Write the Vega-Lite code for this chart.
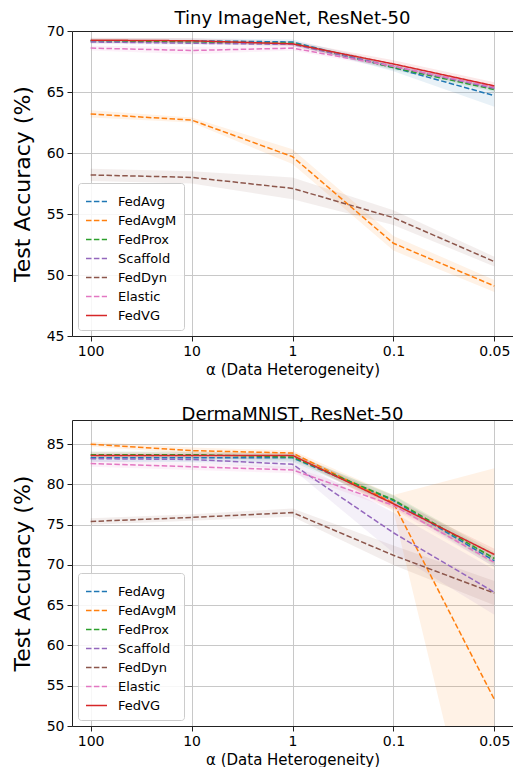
{
  "$schema": "https://vega.github.io/schema/vega-lite/v6.json",
  "padding": {"left": 11, "top": 10, "right": 0, "bottom": 0},
  "spacing": 29,
  "resolve": {"legend": {"color": "independent", "strokeDash": "independent", "strokeWidth": "independent"}},
  "config": {
    "font": "DejaVu Sans",
    "view": {"stroke": null},
    "title": {"font": "DejaVu Sans", "fontSize": 18, "fontWeight": "normal", "color": "#000", "offset": -4, "baseline": "alphabetic"},
    "axis": {"labelFont": "DejaVu Sans", "labelFontSize": 14, "labelColor": "#000", "titleFont": "DejaVu Sans", "titleFontWeight": "normal", "titleColor": "#000", "domainColor": "#222", "tickColor": "#222", "tickSize": 5, "gridColor": "#c8c8c8", "gridWidth": 1, "labelPadding": 3},
    "legend": {"orient": "bottom-left", "offset": 6, "padding": 7, "fillColor": "rgba(255,255,255,0.85)", "strokeColor": "#cccccc", "cornerRadius": 3, "symbolType": "stroke", "symbolSize": 441, "labelFontSize": 13, "labelFont": "DejaVu Sans", "labelColor": "#000", "rowPadding": 0, "labelOffset": 10}
  },
  "datasets": {
    "d": [
      {"p": "t", "m": "FedAvg", "a": "100", "v": 69.2, "lo": 69.0, "hi": 69.4},
      {"p": "t", "m": "FedAvg", "a": "10", "v": 69.2, "lo": 69.0, "hi": 69.4},
      {"p": "t", "m": "FedAvg", "a": "1", "v": 69.1, "lo": 68.9, "hi": 69.3},
      {"p": "t", "m": "FedAvg", "a": "0.1", "v": 67.0, "lo": 66.7, "hi": 67.3},
      {"p": "t", "m": "FedAvg", "a": "0.05", "v": 64.7, "lo": 63.8, "hi": 65.4},
      {"p": "t", "m": "FedAvgM", "a": "100", "v": 63.2, "lo": 62.9, "hi": 63.5},
      {"p": "t", "m": "FedAvgM", "a": "10", "v": 62.7, "lo": 62.5, "hi": 62.9},
      {"p": "t", "m": "FedAvgM", "a": "1", "v": 59.7, "lo": 59.1, "hi": 60.3},
      {"p": "t", "m": "FedAvgM", "a": "0.1", "v": 52.6, "lo": 52.0, "hi": 53.2},
      {"p": "t", "m": "FedAvgM", "a": "0.05", "v": 49.1, "lo": 48.6, "hi": 49.6},
      {"p": "t", "m": "FedProx", "a": "100", "v": 69.2, "lo": 69.05, "hi": 69.35},
      {"p": "t", "m": "FedProx", "a": "10", "v": 69.1, "lo": 68.95, "hi": 69.25},
      {"p": "t", "m": "FedProx", "a": "1", "v": 69.0, "lo": 68.85, "hi": 69.15},
      {"p": "t", "m": "FedProx", "a": "0.1", "v": 67.0, "lo": 66.8, "hi": 67.2},
      {"p": "t", "m": "FedProx", "a": "0.05", "v": 65.2, "lo": 65.0, "hi": 65.4},
      {"p": "t", "m": "Scaffold", "a": "100", "v": 69.1, "lo": 68.95, "hi": 69.25},
      {"p": "t", "m": "Scaffold", "a": "10", "v": 69.0, "lo": 68.85, "hi": 69.15},
      {"p": "t", "m": "Scaffold", "a": "1", "v": 68.9, "lo": 68.75, "hi": 69.05},
      {"p": "t", "m": "Scaffold", "a": "0.1", "v": 67.1, "lo": 66.9, "hi": 67.3},
      {"p": "t", "m": "Scaffold", "a": "0.05", "v": 65.3, "lo": 65.1, "hi": 65.5},
      {"p": "t", "m": "FedDyn", "a": "100", "v": 58.2, "lo": 57.7, "hi": 58.7},
      {"p": "t", "m": "FedDyn", "a": "10", "v": 58.0, "lo": 57.5, "hi": 58.5},
      {"p": "t", "m": "FedDyn", "a": "1", "v": 57.1, "lo": 56.2, "hi": 58.0},
      {"p": "t", "m": "FedDyn", "a": "0.1", "v": 54.7, "lo": 54.1, "hi": 55.3},
      {"p": "t", "m": "FedDyn", "a": "0.05", "v": 51.1, "lo": 50.7, "hi": 51.5},
      {"p": "t", "m": "Elastic", "a": "100", "v": 68.6, "lo": 68.4, "hi": 68.8},
      {"p": "t", "m": "Elastic", "a": "10", "v": 68.4, "lo": 68.1, "hi": 68.7},
      {"p": "t", "m": "Elastic", "a": "1", "v": 68.6, "lo": 68.4, "hi": 68.8},
      {"p": "t", "m": "Elastic", "a": "0.1", "v": 67.1, "lo": 66.9, "hi": 67.3},
      {"p": "t", "m": "Elastic", "a": "0.05", "v": 65.4, "lo": 65.2, "hi": 65.6},
      {"p": "t", "m": "FedVG", "a": "100", "v": 69.25, "lo": 69.05, "hi": 69.45},
      {"p": "t", "m": "FedVG", "a": "10", "v": 69.2, "lo": 69.0, "hi": 69.4},
      {"p": "t", "m": "FedVG", "a": "1", "v": 68.95, "lo": 68.75, "hi": 69.15},
      {"p": "t", "m": "FedVG", "a": "0.1", "v": 67.3, "lo": 67.0, "hi": 67.6},
      {"p": "t", "m": "FedVG", "a": "0.05", "v": 65.5, "lo": 65.2, "hi": 65.8},
      {"p": "d", "m": "FedAvg", "a": "100", "v": 83.3, "lo": 82.8, "hi": 83.8},
      {"p": "d", "m": "FedAvg", "a": "10", "v": 83.3, "lo": 82.8, "hi": 83.8},
      {"p": "d", "m": "FedAvg", "a": "1", "v": 83.3, "lo": 82.8, "hi": 83.8},
      {"p": "d", "m": "FedAvg", "a": "0.1", "v": 78.0, "lo": 77.4, "hi": 78.6},
      {"p": "d", "m": "FedAvg", "a": "0.05", "v": 70.5, "lo": 69.7, "hi": 71.3},
      {"p": "d", "m": "FedAvgM", "a": "100", "v": 85.0, "lo": 84.7, "hi": 85.3},
      {"p": "d", "m": "FedAvgM", "a": "10", "v": 84.2, "lo": 83.8, "hi": 84.6},
      {"p": "d", "m": "FedAvgM", "a": "1", "v": 83.9, "lo": 83.6, "hi": 84.2},
      {"p": "d", "m": "FedAvgM", "a": "0.1", "v": 77.7, "lo": 76.7, "hi": 78.7},
      {"p": "d", "m": "FedAvgM", "a": "0.05", "v": 53.3, "lo": 24.6, "hi": 82.0},
      {"p": "d", "m": "FedProx", "a": "100", "v": 83.7, "lo": 83.3, "hi": 84.1},
      {"p": "d", "m": "FedProx", "a": "10", "v": 83.7, "lo": 83.3, "hi": 84.1},
      {"p": "d", "m": "FedProx", "a": "1", "v": 83.4, "lo": 83.0, "hi": 83.8},
      {"p": "d", "m": "FedProx", "a": "0.1", "v": 78.1, "lo": 77.5, "hi": 78.7},
      {"p": "d", "m": "FedProx", "a": "0.05", "v": 70.8, "lo": 70.0, "hi": 71.6},
      {"p": "d", "m": "Scaffold", "a": "100", "v": 83.2, "lo": 82.8, "hi": 83.6},
      {"p": "d", "m": "Scaffold", "a": "10", "v": 83.1, "lo": 82.7, "hi": 83.5},
      {"p": "d", "m": "Scaffold", "a": "1", "v": 82.5, "lo": 81.9, "hi": 83.1},
      {"p": "d", "m": "Scaffold", "a": "0.1", "v": 74.0, "lo": 71.5, "hi": 76.5},
      {"p": "d", "m": "Scaffold", "a": "0.05", "v": 66.6, "lo": 63.8, "hi": 69.4},
      {"p": "d", "m": "FedDyn", "a": "100", "v": 75.4, "lo": 75.0, "hi": 75.8},
      {"p": "d", "m": "FedDyn", "a": "10", "v": 75.9, "lo": 75.5, "hi": 76.3},
      {"p": "d", "m": "FedDyn", "a": "1", "v": 76.5, "lo": 76.0, "hi": 77.0},
      {"p": "d", "m": "FedDyn", "a": "0.1", "v": 71.2, "lo": 70.0, "hi": 72.4},
      {"p": "d", "m": "FedDyn", "a": "0.05", "v": 66.5, "lo": 65.0, "hi": 68.0},
      {"p": "d", "m": "Elastic", "a": "100", "v": 82.6, "lo": 82.2, "hi": 83.0},
      {"p": "d", "m": "Elastic", "a": "10", "v": 82.2, "lo": 81.8, "hi": 82.6},
      {"p": "d", "m": "Elastic", "a": "1", "v": 81.8, "lo": 81.4, "hi": 82.2},
      {"p": "d", "m": "Elastic", "a": "0.1", "v": 77.4, "lo": 76.9, "hi": 77.9},
      {"p": "d", "m": "Elastic", "a": "0.05", "v": 70.3, "lo": 69.8, "hi": 70.8},
      {"p": "d", "m": "FedVG", "a": "100", "v": 83.6, "lo": 83.2, "hi": 84.0},
      {"p": "d", "m": "FedVG", "a": "10", "v": 83.6, "lo": 83.2, "hi": 84.0},
      {"p": "d", "m": "FedVG", "a": "1", "v": 83.6, "lo": 83.2, "hi": 84.0},
      {"p": "d", "m": "FedVG", "a": "0.1", "v": 77.6, "lo": 77.0, "hi": 78.2},
      {"p": "d", "m": "FedVG", "a": "0.05", "v": 71.3, "lo": 70.6, "hi": 72.0}
    ]
  },
  "vconcat": [
    {
      "title": "Tiny ImageNet, ResNet-50",
      "width": 441,
      "height": 305,
      "data": {"name": "d"},
      "transform": [{"filter": "datum.p == 't'"}],
      "resolve": {"axis": {"x": "independent"}},
      "layer": [
        {
          "mark": {"type": "area", "fillOpacity": 0.1, "clip": true},
          "encoding": {
            "x": {"field": "a", "type": "ordinal", "sort": ["100", "10", "1", "0.1", "0.05"], "scale": {"type": "point", "padding": 0.185}, "axis": {"orient": "top", "labels": false, "ticks": false, "grid": false, "title": null, "domainColor": "#222", "minExtent": 0, "maxExtent": 0}},
            "y": {"field": "lo", "type": "quantitative", "scale": {"domain": [45, 70], "nice": false, "zero": false}, "axis": {"title": "Test Accuracy (%)", "titleFontSize": 22, "titlePadding": 12, "values": [45, 50, 55, 60, 65, 70], "grid": true}},
            "y2": {"field": "hi"},
            "fill": {"field": "m", "type": "nominal", "scale": {"domain": ["FedAvg", "FedAvgM", "FedProx", "Scaffold", "FedDyn", "Elastic", "FedVG"], "range": ["#1f77b4", "#ff7f0e", "#2ca02c", "#9467bd", "#8c564b", "#e377c2", "#d62728"]}, "legend": null}
          }
        },
        {
          "mark": {"type": "line", "clip": true},
          "encoding": {
            "x": {"field": "a", "type": "ordinal", "sort": ["100", "10", "1", "0.1", "0.05"], "scale": {"type": "point", "padding": 0.185}, "axis": {"orient": "bottom", "title": "α (Data Heterogeneity)", "titleFontSize": 15, "titlePadding": 4, "labelAngle": 0, "grid": true}},
            "y": {"field": "v", "type": "quantitative", "axis": {"title": "Test Accuracy (%)", "titleFontSize": 22, "titlePadding": 12, "values": [45, 50, 55, 60, 65, 70], "grid": true}},
            "color": {"field": "m", "type": "nominal", "title": null, "scale": {"domain": ["FedAvg", "FedAvgM", "FedProx", "Scaffold", "FedDyn", "Elastic", "FedVG"], "range": ["#1f77b4", "#ff7f0e", "#2ca02c", "#9467bd", "#8c564b", "#e377c2", "#d62728"]}},
            "strokeDash": {"field": "m", "type": "nominal", "title": null, "scale": {"domain": ["FedAvg", "FedAvgM", "FedProx", "Scaffold", "FedDyn", "Elastic", "FedVG"], "range": [[5.5, 2.4], [5.5, 2.4], [5.5, 2.4], [5.5, 2.4], [5.5, 2.4], [5.5, 2.4], [1, 0]]}},
            "strokeWidth": {"field": "m", "type": "nominal", "title": null, "scale": {"domain": ["FedAvg", "FedAvgM", "FedProx", "Scaffold", "FedDyn", "Elastic", "FedVG"], "range": [1.5, 1.5, 1.5, 1.5, 1.5, 1.5, 2.5]}}
          }
        }
      ]
    },
    {
      "title": "DermaMNIST, ResNet-50",
      "width": 441,
      "height": 306,
      "data": {"name": "d"},
      "transform": [{"filter": "datum.p == 'd'"}],
      "resolve": {"axis": {"x": "independent"}},
      "layer": [
        {
          "mark": {"type": "area", "fillOpacity": 0.1, "clip": true},
          "encoding": {
            "x": {"field": "a", "type": "ordinal", "sort": ["100", "10", "1", "0.1", "0.05"], "scale": {"type": "point", "padding": 0.185}, "axis": {"orient": "top", "labels": false, "ticks": false, "grid": false, "title": null, "domainColor": "#222", "minExtent": 0, "maxExtent": 0}},
            "y": {"field": "lo", "type": "quantitative", "scale": {"domain": [50, 88], "nice": false, "zero": false}, "axis": {"title": "Test Accuracy (%)", "titleFontSize": 22, "titlePadding": 12, "values": [50, 55, 60, 65, 70, 75, 80, 85], "grid": true}},
            "y2": {"field": "hi"},
            "fill": {"field": "m", "type": "nominal", "scale": {"domain": ["FedAvg", "FedAvgM", "FedProx", "Scaffold", "FedDyn", "Elastic", "FedVG"], "range": ["#1f77b4", "#ff7f0e", "#2ca02c", "#9467bd", "#8c564b", "#e377c2", "#d62728"]}, "legend": null}
          }
        },
        {
          "mark": {"type": "line", "clip": true},
          "encoding": {
            "x": {"field": "a", "type": "ordinal", "sort": ["100", "10", "1", "0.1", "0.05"], "scale": {"type": "point", "padding": 0.185}, "axis": {"orient": "bottom", "title": "α (Data Heterogeneity)", "titleFontSize": 15, "titlePadding": 4, "labelAngle": 0, "grid": true}},
            "y": {"field": "v", "type": "quantitative", "axis": {"title": "Test Accuracy (%)", "titleFontSize": 22, "titlePadding": 12, "values": [50, 55, 60, 65, 70, 75, 80, 85], "grid": true}},
            "color": {"field": "m", "type": "nominal", "title": null, "scale": {"domain": ["FedAvg", "FedAvgM", "FedProx", "Scaffold", "FedDyn", "Elastic", "FedVG"], "range": ["#1f77b4", "#ff7f0e", "#2ca02c", "#9467bd", "#8c564b", "#e377c2", "#d62728"]}},
            "strokeDash": {"field": "m", "type": "nominal", "title": null, "scale": {"domain": ["FedAvg", "FedAvgM", "FedProx", "Scaffold", "FedDyn", "Elastic", "FedVG"], "range": [[5.5, 2.4], [5.5, 2.4], [5.5, 2.4], [5.5, 2.4], [5.5, 2.4], [5.5, 2.4], [1, 0]]}},
            "strokeWidth": {"field": "m", "type": "nominal", "title": null, "scale": {"domain": ["FedAvg", "FedAvgM", "FedProx", "Scaffold", "FedDyn", "Elastic", "FedVG"], "range": [1.5, 1.5, 1.5, 1.5, 1.5, 1.5, 2.5]}}
          }
        }
      ]
    }
  ]
}
